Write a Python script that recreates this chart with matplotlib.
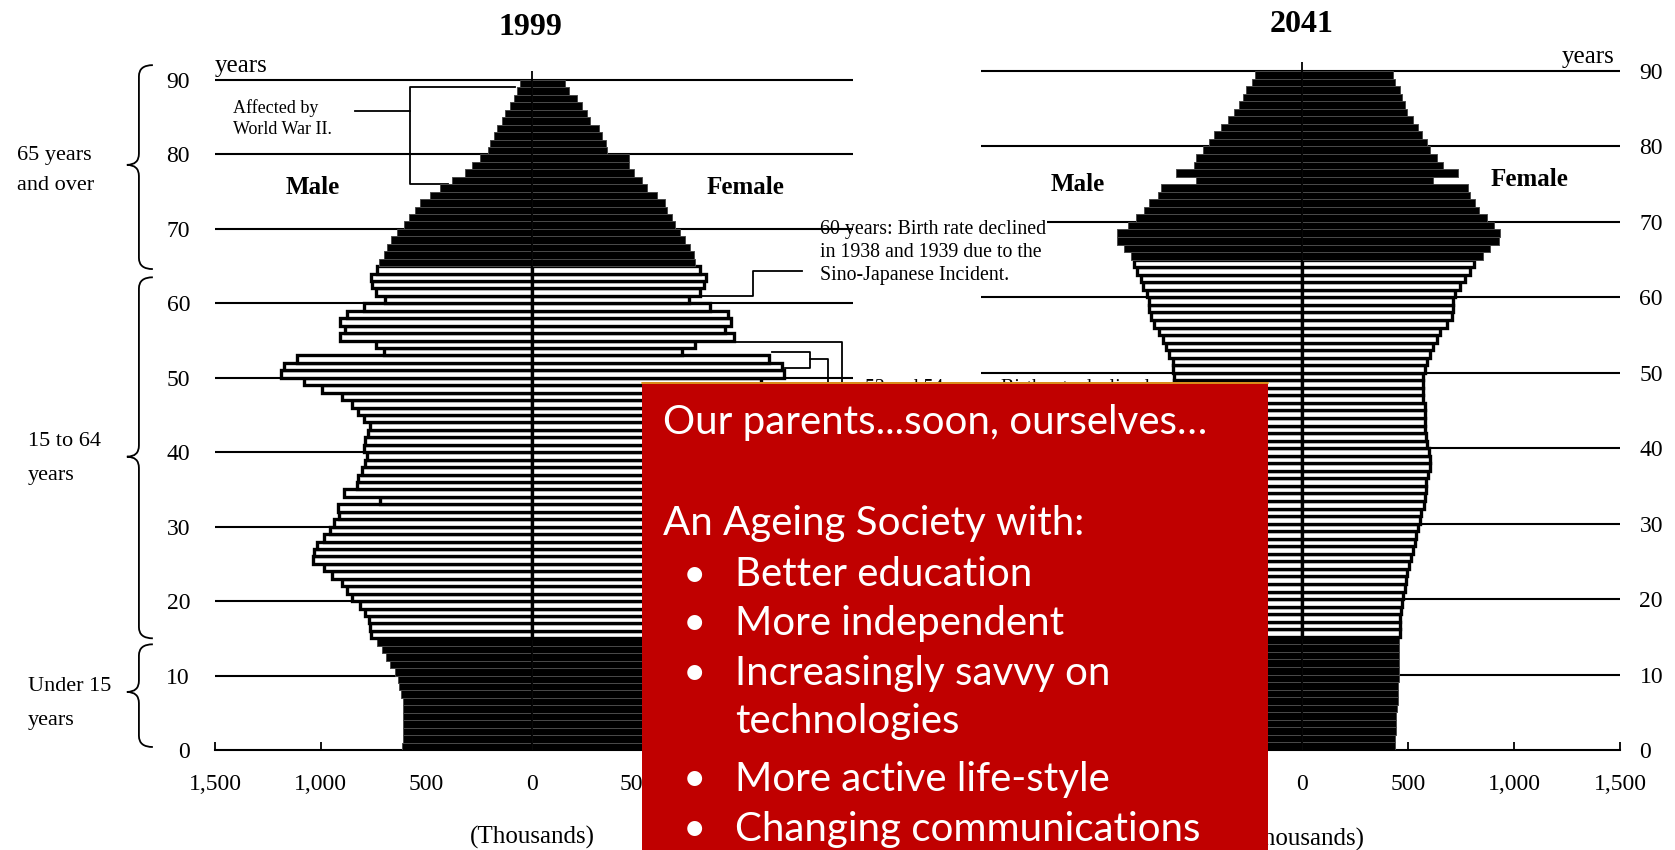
import numpy as np
import matplotlib
matplotlib.use('Agg')
import matplotlib.pyplot as plt
from matplotlib.path import Path
from matplotlib.patches import PathPatch, Rectangle

plt.rcParams['font.family'] = ['Liberation Serif', 'DejaVu Serif']

# population by single year of age, thousands (index = age, 0..89)
ages = np.arange(90)

male_1999 = [615, 612, 612, 612, 612, 612, 612, 618, 628, 634,
             647, 670, 691, 710, 733, 760, 765, 773, 789, 812,
             852, 875, 899, 946, 986, 1038, 1033, 1017, 986, 954,
             938, 915, 918, 718, 888, 828, 823, 804, 789, 781,
             796, 789, 776, 765, 796, 823, 850, 900, 993, 1080,
             1186, 1175, 1112, 702, 738, 907, 883, 907, 875, 796,
             694, 738, 757, 760, 733, 725, 702, 686, 665, 639,
             607, 580, 555, 528, 481, 434, 378, 315, 284, 245,
             210, 197, 181, 166, 142, 126, 102, 87, 71, 55]

female_1999 = [585, 582, 582, 583, 582, 583, 584, 589, 597, 603,
               616, 637, 657, 676, 698, 723, 728, 736, 752, 775,
               815, 838, 862, 910, 950, 1002, 999, 985, 956, 927,
               913, 892, 897, 703, 872, 815, 812, 795, 782, 776,
               793, 788, 777, 768, 801, 830, 858, 910, 1003, 1082,
               1191, 1183, 1120, 710, 770, 954, 915, 943, 927, 844,
               741, 797, 812, 823, 797, 770, 765, 749, 725, 702,
               678, 662, 639, 631, 591, 544, 520, 481, 457, 457,
               355, 350, 331, 315, 276, 260, 237, 213, 174, 158]

male_2041 = [459, 461, 464, 467, 467, 470, 476, 477, 477, 480,
             480, 480, 480, 480, 480, 484, 484, 487, 491, 497,
             500, 508, 513, 520, 530, 542, 550, 559, 566, 574,
             583, 591, 603, 608, 616, 616, 625, 633, 633, 629,
             620, 616, 608, 608, 608, 608, 600, 600, 602, 602,
             610, 610, 626, 642, 658, 673, 697, 713, 721, 721,
             729, 752, 760, 776, 792, 807, 839, 871, 871, 823,
             784, 744, 721, 681, 665, 500, 595, 508, 500, 468,
             437, 413, 382, 350, 319, 295, 279, 263, 235, 224]

female_2041 = [437, 439, 442, 445, 445, 448, 453, 454, 454, 457,
               457, 457, 457, 457, 457, 461, 461, 464, 468, 473,
               476, 484, 489, 495, 505, 516, 524, 532, 539, 547,
               555, 563, 574, 579, 587, 587, 595, 603, 603, 599,
               590, 587, 579, 579, 579, 579, 571, 571, 572, 572,
               580, 588, 604, 620, 636, 651, 683, 706, 714, 714,
               722, 746, 770, 793, 809, 856, 888, 927, 935, 904,
               872, 833, 817, 793, 785, 620, 738, 667, 636, 604,
               588, 565, 549, 525, 494, 486, 470, 462, 438, 430]

age_ticks = list(range(0, 100, 10))
x_ticks = [-1500, -1000, -500, 0, 500, 1000, 1500]
x_tick_labels = ['1,500', '1,000', '500', '0', '500', '1,000', '1,500']

box_title = 'Our parents...soon, ourselves\u2026'
box_subtitle = 'An Ageing Society with:'
box_bullets = ['Better education', 'More independent',
               'Increasingly savvy on\ntechnologies',
               'More active life-style', 'Changing communications']

W, H = 1675, 850


def frac(x0, y_top, x1, y_bot):
    return [x0 / W, 1 - y_bot / H, (x1 - x0) / W, (y_bot - y_top) / H]


def pyramid(ax, male, female, grid_from, grid_to):
    black = (ages < 15) | (ages >= 65)
    face = ['black' if b else 'white' for b in black]
    edge = ['#4a4a4a' if b else 'black' for b in black]
    lw = [0.7 if b else 2.4 for b in black]
    ax.barh(ages + 0.5, -np.asarray(male), height=1.0, color=face,
            edgecolor=edge, linewidth=lw, zorder=3)
    ax.barh(ages + 0.5, np.asarray(female), height=1.0, color=face,
            edgecolor=edge, linewidth=lw, zorder=3)
    ax.hlines(age_ticks[1:], grid_from, grid_to, colors='black',
              linewidth=1.5, zorder=2, clip_on=False)
    ax.vlines(0, 0, 91.2, colors='black', linewidth=1.3, zorder=4,
              clip_on=False)
    ax.set_xlim(-1500, 1500)
    ax.set_ylim(0, 90)
    ax.set_facecolor('none')
    for s in ['top', 'left', 'right']:
        ax.spines[s].set_visible(False)
    ax.spines['bottom'].set_linewidth(1.5)
    ax.set_xticks(x_ticks, x_tick_labels)
    ax.set_yticks(age_ticks)
    ax.tick_params(axis='x', direction='in', length=6, width=1.3,
                   labelsize=17, pad=17)
    ax.tick_params(axis='y', length=0, labelsize=17)
    ax.text(0, -11.8, '(Thousands)', ha='center', va='center',
            fontsize=18, clip_on=False)


def brace(ax, top, bottom, tip, x0=-1860, curl=66, point=57, r=1.5):
    verts = [(x0 + curl, top), (x0, top), (x0, top - r),
             (x0, tip + r), (x0, tip), (x0 - point, tip),
             (x0, tip), (x0, tip - r),
             (x0, bottom + r), (x0, bottom), (x0 + curl, bottom)]
    codes = [Path.MOVETO, Path.CURVE3, Path.CURVE3,
             Path.LINETO, Path.CURVE3, Path.CURVE3,
             Path.CURVE3, Path.CURVE3,
             Path.LINETO, Path.CURVE3, Path.CURVE3]
    ax.add_patch(PathPatch(Path(verts, codes), facecolor='none',
                           edgecolor='black', linewidth=1.3, clip_on=False))


fig = plt.figure(figsize=(W / 100, H / 100), dpi=100)

ax_r = fig.add_axes(frac(984, 71, 1620, 750))
ax_l = fig.add_axes(frac(215, 80, 849, 750))
ax_r.set_zorder(0)
ax_l.set_zorder(1)

# ---- 1999 ----
pyramid(ax_l, male_1999, female_1999, -1500, 1518)
ax_l.tick_params(axis='y', pad=18)
ax_l.text(-9, 97.1, '1999', ha='center', va='center', fontsize=23,
          fontweight='bold', clip_on=False)
ax_l.text(-1500, 91.9, 'years', ha='left', va='center', fontsize=18,
          clip_on=False)
ax_l.text(-1036, 75.5, 'Male', ha='center', va='center', fontsize=18,
          fontweight='bold')
ax_l.text(1008, 75.5, 'Female', ha='center', va='center', fontsize=18,
          fontweight='bold')

# age group braces
brace(ax_l, 92.0, 64.6, 78.6)
brace(ax_l, 63.5, 15.0, 39.4)
brace(ax_l, 14.2, 0.4, 7.8)
for x, y, s in [(-2437, 79.9, '65 years'), (-2437, 75.8, 'and over'),
                (-2385, 41.4, '15 to 64'), (-2385, 36.9, 'years'),
                (-2385, 8.5, 'Under 15'), (-2385, 4.0, 'years')]:
    ax_l.text(x, y, s, ha='left', va='center', fontsize=16, clip_on=False)

# annotations
ax_l.text(-1415, 84.8, 'Affected by\nWorld War II.', ha='left',
          va='center', fontsize=13, linespacing=1.35)
ax_l.plot([-837, -577], [85.8, 85.8], color='black', lw=1.3)
ax_l.plot([-80, -577, -577, -397], [89.1, 89.1, 76.0, 76.0],
          color='black', lw=1.3)
ax_l.text(1363, 66.8, '60 years: Birth rate declined\nin 1938 and 1939 due to the\n'
          'Sino-Japanese Incident.', ha='left', va='center', fontsize=14.3,
          linespacing=1.3, zorder=1.5, clip_on=False,
          bbox=dict(facecolor='white', edgecolor='none', pad=0.5))
ax_l.plot([1277, 1045, 1045, 795], [64.35, 64.35, 61.0, 61.0],
          color='black', lw=1.3, clip_on=False)
ax_l.plot([960, 1466, 1466], [54.85, 54.85, 45], color='black', lw=1.3,
          clip_on=False)
ax_l.plot([1135, 1315, 1315, 1197], [53.47, 53.47, 51.32, 51.32],
          color='black', lw=1.3, clip_on=False)
ax_l.plot([1315, 1400, 1400], [52.52, 52.52, 45], color='black', lw=1.3,
          clip_on=False)
ax_l.text(1576, 49.9, '53 and 54 years: Birth rate declined\n'
          'at the end of World War II.', ha='left', va='top',
          fontsize=14.3, linespacing=1.3, clip_on=False)

# ---- 2041 ----
pyramid(ax_r, male_2041, female_2041, -1513, 1500)
ax_r.yaxis.tick_right()
ax_r.tick_params(axis='y', pad=14)
ax_r.text(0, 96.1, '2041', ha='center', va='center', fontsize=23,
          fontweight='bold', clip_on=False)
ax_r.text(1472, 91.9, 'years', ha='right', va='center', fontsize=18,
          clip_on=False)
ax_r.text(-1057, 75.0, 'Male', ha='center', va='center', fontsize=18,
          fontweight='bold')
ax_r.text(1075, 75.6, 'Female', ha='center', va='center', fontsize=18,
          fontweight='bold')

# ---- red text box overlay ----
ov = fig.add_axes([0, 0, 1, 1])
ov.set_zorder(5)
ov.set_xlim(0, W)
ov.set_ylim(H, 0)
ov.axis('off')
ov.add_patch(Rectangle((642, 382), 626, 470, facecolor='#c00000',
                       edgecolor='none'))
ov.plot([642, 1268], [382.5, 382.5], color='#e0a820', lw=1.2)

box_font = dict(family=['Lato', 'DejaVu Sans'], color='white', fontsize=29)
ov.text(663, 422, box_title, ha='left', va='center', **box_font)
ov.text(663, 523, box_subtitle, ha='left', va='center', **box_font)
bullet_y = [575, 624, 673, 780, 829]
for y, item in zip(bullet_y, box_bullets):
    ov.text(694, y, '\u2022', ha='center', va='center', **box_font)
    lines = item.split('\n')
    for k, line in enumerate(lines):
        ov.text(735, y + 49 * k, line, ha='left', va='center', **box_font)

fig.savefig('out.png', dpi=100)
